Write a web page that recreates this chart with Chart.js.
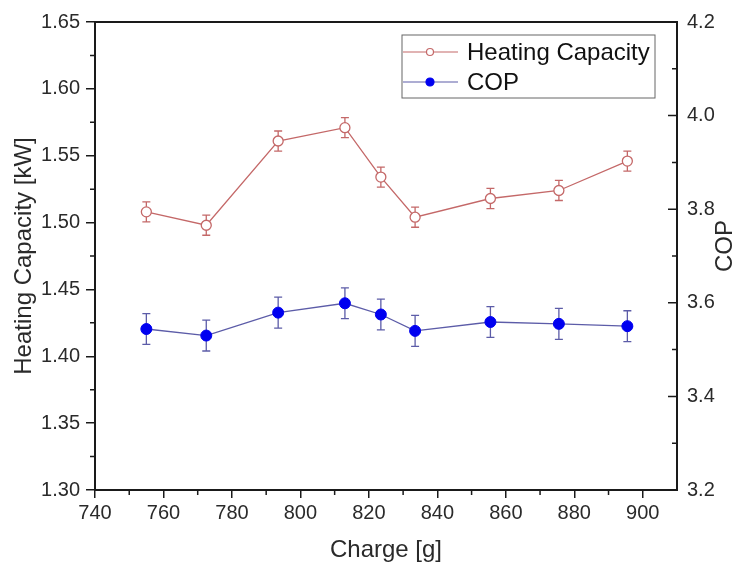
<!DOCTYPE html>
<html>
<head>
<meta charset="utf-8">
<script src="https://cdn.jsdelivr.net/npm/chart.js@4.4.1/dist/chart.umd.min.js"></script>
<style>
  body { margin: 0; background: #fff; }
  canvas { display: block; }
</style>
</head>
<body>
<canvas id="chart" width="743" height="563"></canvas>
<script>
const charge = [755, 772.5, 793.5, 813, 823.5, 833.5, 855.5, 875.5, 895.5]
const heating = [1.508, 1.498, 1.561, 1.571, 1.534, 1.504, 1.518, 1.524, 1.546]
const heatingErr = [0.0075, 0.0075, 0.0075, 0.0075, 0.0075, 0.0075, 0.0075, 0.0075, 0.0075]
const cop = [3.544, 3.530, 3.579, 3.599, 3.575, 3.540, 3.559, 3.555, 3.550]
const copErr = [0.033, 0.033, 0.033, 0.033, 0.033, 0.033, 0.033, 0.033, 0.033]

const xTicks = [740, 760, 780, 800, 820, 840, 860, 880, 900]
const leftTicks = [1.30, 1.35, 1.40, 1.45, 1.50, 1.55, 1.60, 1.65]
const rightTicks = [3.2, 3.4, 3.6, 3.8, 4.0, 4.2]

const heatColor = 'rgb(196,104,104)'
const copLine = 'rgb(92,92,168)'
const copDot = '#0000f0'
const axisColor = '#1a1a1a'
const textColor = '#2a2a2a'
const font = 'Arial, "Liberation Sans", sans-serif'

const ctx = document.getElementById('chart').getContext('2d')

const errors = [heatingErr, copErr]

const extras = {
    id: 'extras',
    beforeDatasetsDraw(chart) {
        const c = chart.ctx
        chart.data.datasets.forEach((ds, i) => {
            const meta = chart.getDatasetMeta(i)
            const sc = chart.scales[ds.yAxisID]
            c.save()
            c.strokeStyle = ds.borderColor
            c.lineWidth = 1.3
            ds.data.forEach((p, j) => {
                const x = meta.data[j].x
                const y1 = sc.getPixelForValue(p.y + errors[i][j])
                const y2 = sc.getPixelForValue(p.y - errors[i][j])
                c.beginPath()
                c.moveTo(x, y1); c.lineTo(x, y2)
                c.moveTo(x - 4, y1); c.lineTo(x + 4, y1)
                c.moveTo(x - 4, y2); c.lineTo(x + 4, y2)
                c.stroke()
            })
            c.restore()
        })
    },
    afterDraw(chart) {
        const c = chart.ctx
        const a = chart.chartArea
        const sx = chart.scales.x, sl = chart.scales.y, sr = chart.scales.y1
        c.save()
        c.strokeStyle = axisColor
        // top frame
        c.lineWidth = 2
        c.beginPath()
        c.moveTo(a.left - 1, a.top); c.lineTo(a.right + 1, a.top)
        c.stroke()
        c.lineWidth = 1.5
        c.beginPath()
        // right major ticks (inward)
        rightTicks.forEach(v => {
            const y = sr.getPixelForValue(v)
            c.moveTo(a.right, y); c.lineTo(a.right - 9, y)
        })
        // minor ticks
        for (let i = 0; i < rightTicks.length - 1; i++) {
            const y = sr.getPixelForValue((rightTicks[i] + rightTicks[i + 1]) / 2)
            c.moveTo(a.right, y); c.lineTo(a.right - 5, y)
        }
        for (let i = 0; i < leftTicks.length - 1; i++) {
            const y = sl.getPixelForValue((leftTicks[i] + leftTicks[i + 1]) / 2)
            c.moveTo(a.left, y); c.lineTo(a.left - 5, y)
        }
        for (let i = 0; i < xTicks.length - 1; i++) {
            const x = sx.getPixelForValue((xTicks[i] + xTicks[i + 1]) / 2)
            c.moveTo(x, a.bottom); c.lineTo(x, a.bottom + 5)
        }
        c.stroke()

        // right title
        c.fillStyle = textColor
        c.font = '24px ' + font
        c.textAlign = 'center'
        c.textBaseline = 'middle'
        c.translate(725, (a.top + a.bottom) / 2 - 10)
        c.rotate(-Math.PI / 2)
        c.fillText('COP', 0, 0)
        c.restore()

        // legend
        c.save()
        const lx = a.right - 275, ly = a.top + 13
        c.strokeStyle = '#666'
        c.lineWidth = 1
        c.strokeRect(lx, ly, 253, 63)
        const rows = [
            { label: 'Heating Capacity', line: heatColor, fill: '#fff', stroke: heatColor, r: 3.5 },
            { label: 'COP', line: copLine, fill: copDot, stroke: copDot, r: 4 }
        ]
        rows.forEach((row, i) => {
            const y = ly + 17 + i * 30
            c.strokeStyle = row.line
            c.lineWidth = 1.2
            c.beginPath()
            c.moveTo(lx + 1, y); c.lineTo(lx + 56, y)
            c.stroke()
            c.beginPath()
            c.arc(lx + 28, y, row.r, 0, Math.PI * 2)
            c.fillStyle = row.fill
            c.fill()
            c.strokeStyle = row.stroke
            c.stroke()
            c.fillStyle = '#111'
            c.font = '24px ' + font
            c.textAlign = 'left'
            c.textBaseline = 'middle'
            c.fillText(row.label, lx + 65, y + 1)
        })
        c.restore()
    }
}

new Chart(ctx, {
    type: 'line',
    data: {
        datasets: [{
            label: 'Heating Capacity',
            data: charge.map((x, i) => ({ x: x, y: heating[i] })),
            yAxisID: 'y',
            borderColor: heatColor,
            borderWidth: 1.3,
            pointRadius: 5,
            pointBorderWidth: 1.3,
            pointBackgroundColor: '#fff',
            pointBorderColor: heatColor,
            tension: 0,
        }, {
            label: 'COP',
            data: charge.map((x, i) => ({ x: x, y: cop[i] })),
            yAxisID: 'y1',
            borderColor: copLine,
            borderWidth: 1.3,
            pointRadius: 5.5,
            pointBorderWidth: 1,
            pointBackgroundColor: copDot,
            pointBorderColor: copDot,
            tension: 0,
        }]
    },
    options: {
        responsive: false,
        animation: false,
        layout: { padding: { top: 22, left: 0, right: 0, bottom: 0 } },
        plugins: {
            legend: { display: false },
            tooltip: { enabled: false }
        },
        scales: {
            x: {
                type: 'linear',
                min: 740,
                max: 910,
                afterBuildTicks: s => { s.ticks = xTicks.map(v => ({ value: v })) },
                afterFit: s => { s.height = 73 },
                grid: { drawOnChartArea: false, tickLength: 8, color: axisColor, lineWidth: 1.5 },
                border: { color: axisColor, width: 2 },
                ticks: { color: textColor, font: { family: font, size: 20 }, padding: 3, maxRotation: 0 },
                title: { display: true, text: 'Charge [g]', color: textColor, font: { family: font, size: 24, lineHeight: 1.05 }, padding: { top: 0, bottom: 0 } }
            },
            y: {
                type: 'linear',
                position: 'left',
                min: 1.30,
                max: 1.65,
                afterBuildTicks: s => { s.ticks = leftTicks.map(v => ({ value: v })) },
                afterFit: s => { s.width = 95 },
                grid: { drawOnChartArea: false, tickLength: 9, color: axisColor, lineWidth: 1.5 },
                border: { color: axisColor, width: 2 },
                ticks: { color: textColor, font: { family: font, size: 20 }, padding: 6, callback: v => v.toFixed(2) },
                title: { display: true, text: 'Heating Capacity [kW]', color: textColor, font: { family: font, size: 24 }, padding: { top: 10, bottom: 0 } }
            },
            y1: {
                type: 'linear',
                position: 'right',
                min: 3.2,
                max: 4.2,
                afterBuildTicks: s => { s.ticks = rightTicks.map(v => ({ value: v })) },
                afterFit: s => { s.width = 66 },
                grid: { drawOnChartArea: false, drawTicks: false, color: axisColor },
                border: { color: axisColor, width: 2 },
                ticks: { color: textColor, font: { family: font, size: 20 }, padding: 10, callback: v => v.toFixed(1) },
                title: { display: false }
            }
        }
    },
    plugins: [extras]
})
</script>
</body>
</html>
